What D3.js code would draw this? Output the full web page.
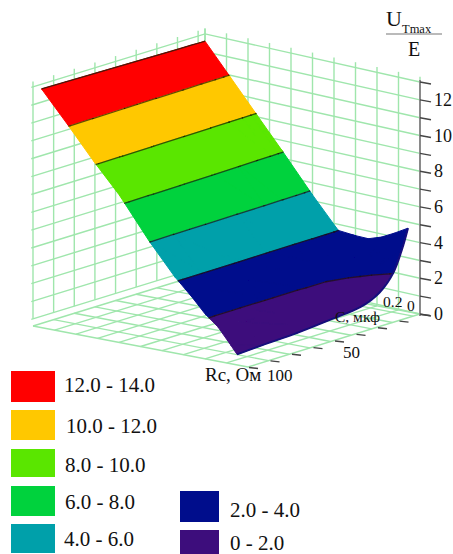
<!DOCTYPE html>
<html><head><meta charset="utf-8">
<script src="https://cdn.jsdelivr.net/npm/d3@7/dist/d3.min.js"></script>
<style>html,body{margin:0;padding:0;background:#fff}svg{display:block}text{font-family:"Liberation Serif",serif;fill:#111}</style>
</head><body><svg id="c" width="453" height="554"></svg>
<script>
// ---- data ----
const bandLabels = ["12.0 - 14.0","10.0 - 12.0","8.0 - 10.0","6.0 - 8.0","4.0 - 6.0","2.0 - 4.0","0 - 2.0"];
const bandLow  = [12,10,8,6,4,2,0];
const bandHigh = [14,12,10,8,6,4,2];
const bandColors = ["#ff0000","#ffc800","#5ae600","#00d23c","#00a0aa","#000a8c","#3c0a7c"];
const zTicks = [0,1,2,3,4,5,6,7,8,9,10,11,12,13];
const zLabels = [0,2,4,6,8,10,12];
const rcGridValues = [100,88,76,64,52,40,28,16,4,0];
const cGridValues = [0,.1,.2,.3,.4,.5,.6,.7,.8,.9,1];
const rcTicks = [0,12.5,25,37.5,50,62.5,75,87.5,100];

// surface: columns at these Rc, rows at these C
const rcValues = [0,3,8,16,27,43,62,81,95];
const cEdge = [.056,.06,.06,.06,.06,.07,.075,.085,.091]; // lower C border of the surface per column
const cRows = [.12,.18,.24,.30,.38,.50,.64,.76,.88,1];
const zEdge = [3.93,3.0,2.03,1.3,.89,.69,.52,.4,.3];
const z012 = [3.72,3.1,2.35,1.8,1.1,.95,.85,.78,.7];
const z018 = [3.58,3.2,2.75,2.2,1.5,1.38,1.38,1.42,1.55];
const z024 = [3.54,3.2,2.8,2.4,2.22,2.2,2.2,2.2,2.2];
const z030 = [3.7,3.45,3.25,3.1,3.07,3.07,3.07,3.07,3.07];
const z038 = [4.0,4.02,4.04,4.06,4.08,4.12,4.16,4.2,4.22];
const z050 = [5.8,5.82,5.84,5.87,5.9,5.93,5.98,6.02,6.05];
const z064 = [8.05,8.08,8.1,8.14,8.2,8.26,8.33,8.4,8.45];
const z076 = [9.95,9.97,9.98,10.0,10.03,10.07,10.12,10.17,10.2];
const z088 = [11.87,11.88,11.89,11.9,11.93,11.97,12.02,12.07,12.1];
const z100 = [13.8,13.8,13.81,13.82,13.84,13.87,13.9,13.93,13.95];
const zRows = [z012,z018,z024,z030,z038,z050,z064,z076,z088,z100];

// ---- scales: oblique box ----
const cToX = d3.scaleLinear().domain([0,1]).range([420,205]);
const cToY = d3.scaleLinear().domain([0,1]).range([314,273]);
const rcToDX = d3.scaleLinear().domain([0,100]).range([0,-172]);
const rcToDY = d3.scaleLinear().domain([0,100]).range([0,53]);
const zAxis = d3.scaleLinear().domain([0,13]).range([0,232]);
const surfacePxPerUnit = d3.scaleLinear().domain([0,.12,.23,.38,.6,1]).range([22,20.4,18.6,17,17,16.8]);
const box = (c,r,h)=>[cToX(c)+rcToDX(r), cToY(c)+rcToDY(r)-h];
const surf = p => box(p.c,p.r,surfacePxPerUnit(p.c)*p.z);

const svg = d3.select("#c");
const defs = svg.append("defs");
defs.append("filter").attr("id","b").attr("x","-5%").attr("y","-5%").attr("width","110%").attr("height","110%")
  .append("feGaussianBlur").attr("stdDeviation",0.6);
const g = svg.append("g").attr("filter","url(#b)");
const line = d3.line();

// ---- grid ----
const grid = g.append("g").attr("fill","none").attr("stroke","#9fe6ac").attr("stroke-width",1.4);
const wallLift = d3.scaleLinear().domain([0,1]).range([0,.4]);
const wallTop = 13.7;
grid.selectAll(".fc").data(cGridValues).join("path").attr("d",c=>line([box(c,0,0),box(c,100,0)]));
grid.selectAll(".fr").data(rcGridValues).join("path").attr("d",r=>line([box(0,r,0),box(1,r,0)]));
grid.selectAll(".wr").data(rcGridValues).join("path").attr("d",r=>line([box(1,r,zAxis(wallLift(1))),box(1,r,zAxis(wallTop))]));
grid.selectAll(".wrh").data(zTicks).join("path").attr("d",k=>line([box(1,101,zAxis(k+wallLift(1))),box(1,0,zAxis(k+wallLift(1))),box(0,0,zAxis(k+wallLift(0)))]));
grid.selectAll(".wc").data(cGridValues).join("path").attr("d",c=>line([box(c,0,zAxis(wallLift(c))),box(c,0,zAxis(13.3+wallLift(c)))]));

// ---- axes ----
const axisCol = "#444";
g.append("path").attr("d",line([box(0,0,-2),box(0,0,zAxis(13)+2)])).attr("stroke","#8a8a8a").attr("stroke-width",2).attr("fill","none");
g.append("g").selectAll("path").data(zTicks).join("path")
  .attr("d",k=>{const p=box(0,0,zAxis(k));return line([[p[0],p[1]],[p[0]+11,p[1]+2]]);})
  .attr("stroke",axisCol).attr("stroke-width",1.4).attr("fill","none");
g.append("g").selectAll("path").data(rcTicks).join("path")
  .attr("d",r=>{const p=box(0,r,0);return line([[p[0]+1,p[1]+.5],[p[0]+10,p[1]+1.5]]);})
  .attr("stroke",axisCol).attr("stroke-width",1.5).attr("fill","none");

// ---- surface ----
const allRows = [rcValues.map((r,j)=>({r,c:cEdge[j],z:zEdge[j]}))]
  .concat(cRows.map((c,i)=>rcValues.map((r,j)=>({r,c,z:zRows[i][j]}))));
const tris = [];
for (let i=allRows.length-2;i>=0;i--) for (let j=0;j<rcValues.length-1;j++){
  const a=allRows[i][j],b=allRows[i][j+1],c=allRows[i+1][j+1],d=allRows[i+1][j];
  tris.push([a,b,c],[a,c,d]);
}
const mix=(p,q,t)=>({c:p.c+(q.c-p.c)*t,r:p.r+(q.r-p.r)*t,z:p.z+(q.z-p.z)*t});
function clip(poly,level,keepAbove){
  const out=[];
  poly.forEach((p,i)=>{
    const q=poly[(i+1)%poly.length];
    const pin=keepAbove?p.z>=level:p.z<=level, qin=keepAbove?q.z>=level:q.z<=level;
    if(pin) out.push(p);
    if(pin!==qin) out.push(mix(p,q,(level-p.z)/(q.z-p.z)));
  });
  return out;
}
const surfG = g.append("g");
bandColors.forEach((col,k)=>{
  const polys=[];
  tris.forEach(t=>{
    let p=clip(t,bandLow[k],true); if(p.length<3) return;
    p=clip(p,bandHigh[k],false); if(p.length>=3) polys.push(p.map(surf));
  });
  surfG.append("path").attr("d",polys.map(d=>line(d)+"Z").join(""))
    .attr("fill",col).attr("stroke",col).attr("stroke-width",1).attr("stroke-linejoin","round");
});
const segs=[];
bandLow.filter(v=>v>0).forEach(level=>{
  tris.forEach(t=>{
    const pts=[];
    t.forEach((p,i)=>{const q=t[(i+1)%3];
      if((p.z<level)!==(q.z<level)) pts.push(mix(p,q,(level-p.z)/(q.z-p.z)));});
    if(pts.length===2) segs.push(pts.map(surf));
  });
});
surfG.append("g").selectAll("path").data(segs).join("path").attr("d",d=>line(d))
  .attr("fill","none").attr("stroke","#1c1408").attr("stroke-opacity",.68).attr("stroke-width",1.3).attr("stroke-linecap","round");
surfG.append("path").attr("d",line(allRows[allRows.length-1].map(surf))).attr("fill","none").attr("stroke","#4a1408").attr("stroke-width",1.3);
surfG.append("path").attr("d",d3.line().curve(d3.curveCatmullRom)(allRows[0].map(surf))).attr("fill","none").attr("stroke","#14107c").attr("stroke-width",2);

// ---- legend ----
const legX = [11,11,11,11,11,180,180];
const legW = [44,44,44,44,44,39,39];
const legY = [371,410,449,486,524,491,530];
const legH = [31,30,28,30,29,31,24];
const legTX = [64,66,65,65,64,230,230];
const legTY = [392,433,472,509,546,517,549.5];
g.append("g").selectAll("rect").data(bandColors).join("rect")
  .attr("x",(d,i)=>legX[i]).attr("y",(d,i)=>legY[i]).attr("width",(d,i)=>legW[i]).attr("height",(d,i)=>legH[i]).attr("fill",d=>d);

// ---- text ----
const t = svg.append("g");
function label(s,x,y,size,anchor){return t.append("text").attr("x",x).attr("y",y).attr("font-size",size).attr("text-anchor",anchor||"start").text(s);}
bandLabels.forEach((s,i)=>label(s,legTX[i],legTY[i],21));
zLabels.forEach(v=>{const p=box(0,0,zAxis(v));label(String(v),434,p[1]+6,18);});
label("U",386,26,22); label("Tmax",402,33,12.5);
t.append("line").attr("x1",386).attr("x2",442).attr("y1",34).attr("y2",34).attr("stroke","#777").attr("stroke-width",1.2);
label("E",414,56,20,"middle");
label("0.2",383,307,15.5); label("0",407,311,15.5);
label("C, мкф",335,322,15.5);
label("50",343,358,17); label("100",267,381,17);
label("Rc, Ом",205,381,19);
</script></body></html>
